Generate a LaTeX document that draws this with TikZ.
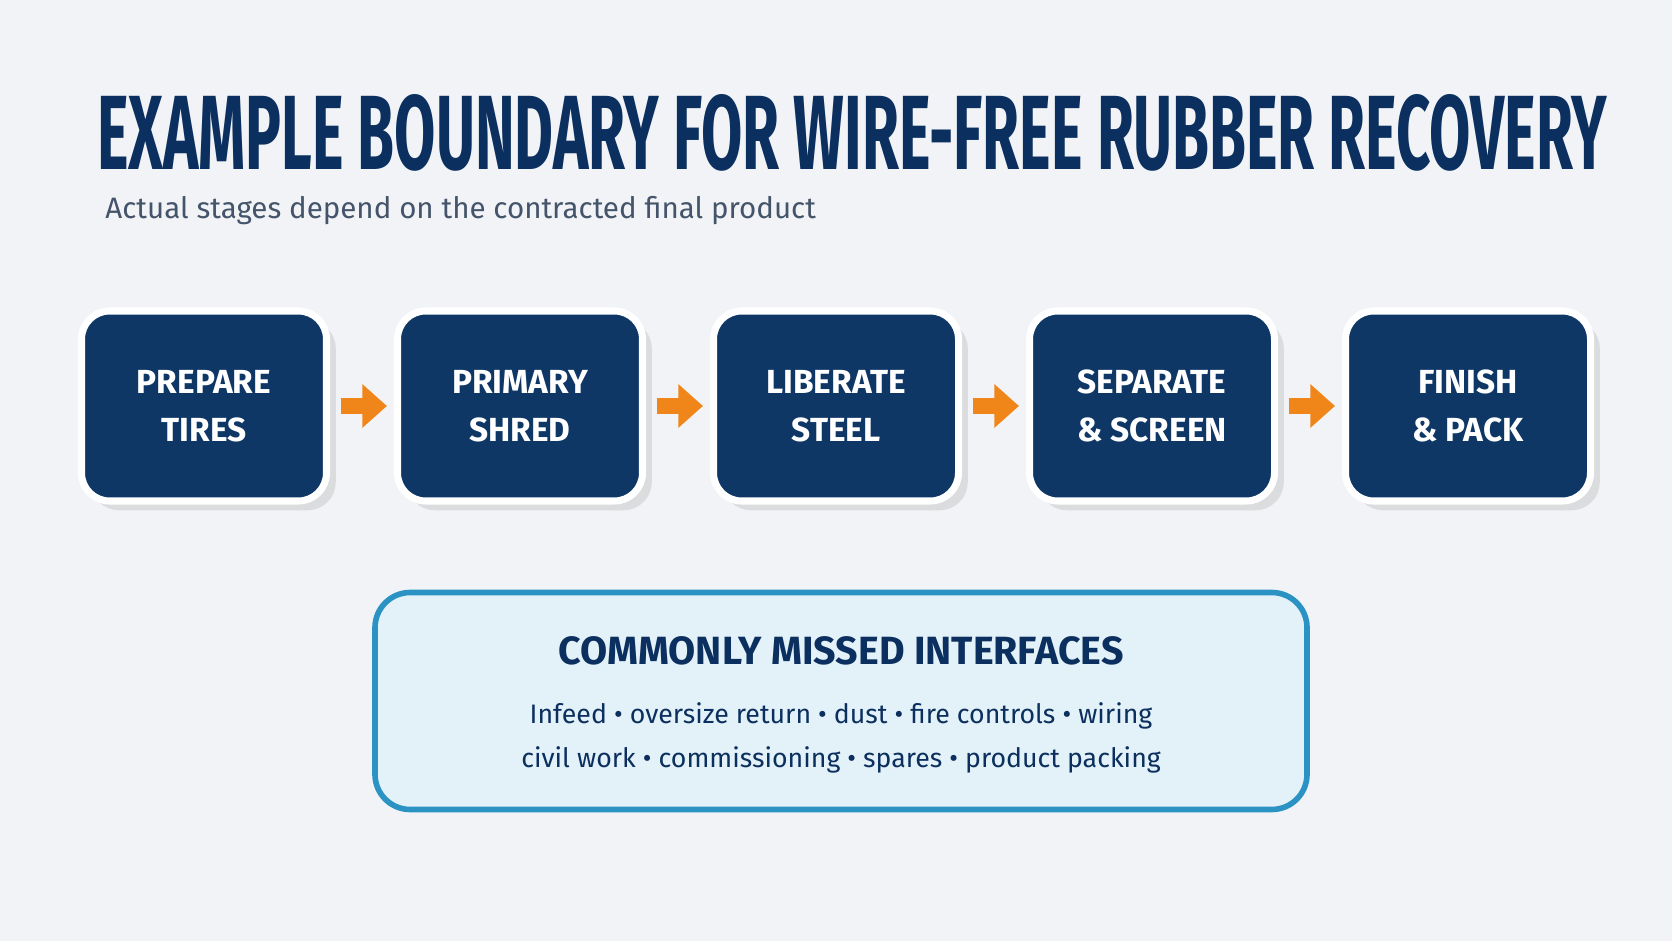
\documentclass[tikz,border=0pt]{standalone}
\usepackage{fontspec}
\setmainfont{Fira Sans}
\usetikzlibrary{positioning,arrows.meta,shadows}
\definecolor{navy}{HTML}{0B2F5E}
\definecolor{stagebg}{HTML}{0E3766}
\definecolor{flow}{HTML}{F0861A}
\definecolor{rimblue}{HTML}{2A93C4}
\definecolor{note}{HTML}{E3F1F8}
\definecolor{sub}{HTML}{44546A}
\definecolor{paper}{HTML}{F1F3F6}
\begin{document}
\begin{tikzpicture}[
% Change style
	node distance=3.16cm,
	on grid,
	stage/.style={rectangle, rounded corners=8pt, fill=stagebg, draw=white, line width=2pt,
		minimum width=2.45cm, minimum height=1.9cm, align=center, text=white,
		font=\bfseries\fontsize{9.5}{13.5}\selectfont, drop shadow={opacity=0.2}},
	flowarrow/.style={-{Triangle[length=7pt,width=12pt]}, line width=4.5pt, flow, shorten <=3pt, shorten >=2pt}]

% Background
\fill[paper] (0,0) rectangle (16.72,9.41);

% Title
\node[navy] (title) at (8.52,8.08)
	{\resizebox{15.1cm}{0.75cm}{\bfseries EXAMPLE BOUNDARY FOR WIRE-FREE RUBBER RECOVERY}};

% Subtitle
\node[anchor=west, sub, font=\fontsize{8.4}{10}\selectfont] (subtitle) at (0.93,7.30)
	{Actual stages depend on the contracted final product};

% Stage 1
\node[stage] (prepare) at (2.04,5.35) {PREPARE\\TIRES};

% Stage 2
\node[stage, right=of prepare] (shred) {PRIMARY\\SHRED};

% Stage 3
\node[stage, right=of shred] (liberate) {LIBERATE\\STEEL};

% Stage 4
\node[stage, right=of liberate] (separate) {SEPARATE\\\& SCREEN};

% Stage 5
\node[stage, right=of separate] (finish) {FINISH\\\& PACK};

% Connections
\draw (prepare) edge[flowarrow] (shred)
	(shred) edge[flowarrow] (liberate)
	(liberate) edge[flowarrow] (separate)
	(separate) edge[flowarrow] (finish);

% Interfaces
\node[rectangle, rounded corners=10pt, fill=note, draw=rimblue, line width=1.6pt,
	minimum width=9.32cm, minimum height=2.17cm] (interfaces) at (8.41,2.40) {};
\node[navy, font=\bfseries\fontsize{11.2}{13}\selectfont] (heading) at (8.41,2.90)
	{COMMONLY MISSED INTERFACES};
\node[navy, font=\fontsize{7.6}{10}\selectfont] (line1) at (8.41,2.25)
	{Infeed \textbullet{} oversize return \textbullet{} dust \textbullet{} fire controls \textbullet{} wiring};
\node[navy, font=\fontsize{7.6}{10}\selectfont] (line2) at (8.41,1.81)
	{civil work \textbullet{} commissioning \textbullet{} spares \textbullet{} product packing};

\end{tikzpicture}
\end{document}
